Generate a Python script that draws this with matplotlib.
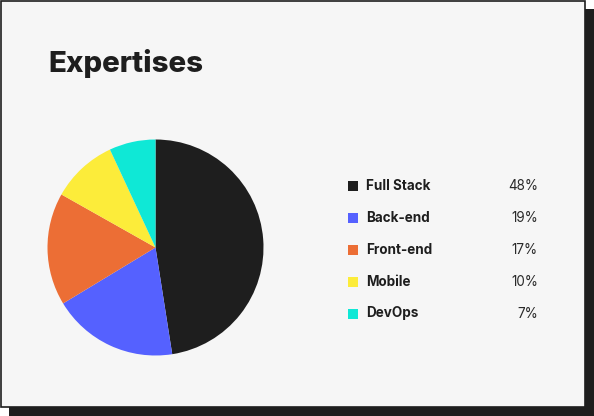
import matplotlib
matplotlib.use('Agg')
import matplotlib.pyplot as plt
from matplotlib.patches import Rectangle

labels = ['Full Stack', 'Back-end', 'Front-end', 'Mobile', 'DevOps']
shares = [48, 19, 17, 10, 7]
colors = ['#1e1e1e', '#5561ff', '#ec6e35', '#fcec3a', '#0fe8d6']

W, H = 594, 416
fig = plt.figure(figsize=(W / 100, H / 100), dpi=100)
fig.patch.set_facecolor('white')


def fx(px):
    return px / W


def fy(py):
    return 1 - py / H


# shadow + card
fig.patches.append(Rectangle((fx(9), fy(416)), fx(585), 407 / H,
                             transform=fig.transFigure, facecolor='#1e1e1e',
                             edgecolor='none', zorder=0))
fig.patches.append(Rectangle((fx(0.5), fy(407)), fx(584.5), 406.5 / H,
                             transform=fig.transFigure, facecolor='#f6f6f6',
                             edgecolor='#1e1e1e', linewidth=1.2, zorder=1))

fig.text(fx(48), fy(72), 'Expertises', fontsize=21.2, fontweight='heavy',
         family='Inter', color='#1e1e1e', va='baseline', ha='left', zorder=3)

# pie
cx, cy, r = 155.5, 247.5, 108
ax = fig.add_axes([fx(cx - r), fy(cy + r), 2 * r / W, 2 * r / H], zorder=3)
ax.pie(shares, colors=colors, startangle=90, counterclock=False,
       wedgeprops=dict(linewidth=0))
ax.set_xlim(-1, 1)
ax.set_ylim(-1, 1)
ax.set_aspect('auto')
ax.axis('off')

# legend
for i, (lab, val, col) in enumerate(zip(labels, shares, colors)):
    y = 185.5 + i * 32
    fig.patches.append(Rectangle((fx(348), fy(y + 5)), fx(10), 10 / H,
                                 transform=fig.transFigure, facecolor=col,
                                 edgecolor='none', zorder=2))
    fig.text(fx(366), fy(y), lab, fontsize=9.7, fontweight='bold',
             family='Inter', color='#1e1e1e', va='center', ha='left', zorder=3)
    fig.text(fx(538), fy(y), f'{val}%', fontsize=9.7, family='Inter',
             color='#2a2a2a', va='center', ha='right', zorder=3)

fig.savefig('out.png', dpi=100)
